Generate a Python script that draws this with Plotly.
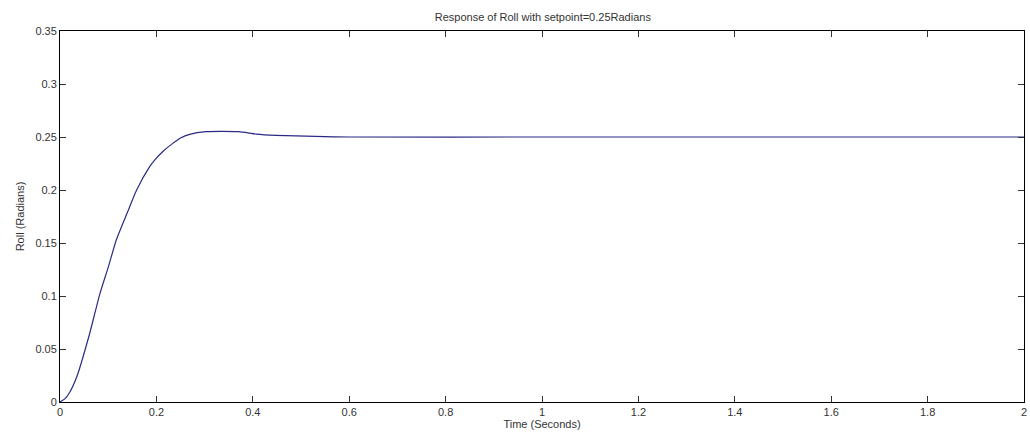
import plotly.graph_objects as go

time_s = [0, 0.01, 0.02, 0.035, 0.06, 0.083, 0.1, 0.117, 0.14, 0.159, 0.186, 0.196,
          0.215, 0.234, 0.25, 0.269, 0.303, 0.37, 0.407, 0.448, 0.53, 0.6, 1.0, 2.0]
roll_rad = [0, 0.003, 0.009, 0.024, 0.062, 0.1025, 0.127, 0.153, 0.179, 0.2, 0.222, 0.228,
            0.237, 0.244, 0.249, 0.2525, 0.255, 0.255, 0.2528, 0.2516, 0.2505, 0.25, 0.25, 0.25]

x_ticks = [0, 0.2, 0.4, 0.6, 0.8, 1, 1.2, 1.4, 1.6, 1.8, 2]
x_tick_text = ["0", "0.2", "0.4", "0.6", "0.8", "1", "1.2", "1.4", "1.6", "1.8", "2"]
y_ticks = [0, 0.05, 0.1, 0.15, 0.2, 0.25, 0.3, 0.35]
y_tick_text = ["0", "0.05", "0.1", "0.15", "0.2", "0.25", "0.3", "0.35"]

fig = go.Figure()
fig.add_trace(go.Scatter(x=time_s, y=roll_rad, mode="lines", line_shape="spline",
                         line=dict(color="#2a2a86", width=1.2, smoothing=0.6), showlegend=False))

font = dict(family="Liberation Sans, Arial, sans-serif", size=11, color="#333333")
fig.update_layout(
    width=1030, height=439,
    margin=dict(l=60, r=3, t=31, b=37),
    paper_bgcolor="white", plot_bgcolor="white",
    font=font,
    title=dict(text="Response of Roll with setpoint=0.25Radians", x=0.527, xanchor="center",
               y=1 - 17 / 439, yanchor="middle", font=dict(size=11, color="#333333")),
)
fig.update_xaxes(range=[0, 2], tickvals=x_ticks, ticktext=x_tick_text,
                 showline=True, linecolor="black", linewidth=1, mirror="ticks",
                 ticks="inside", ticklen=6, tickcolor="#333333", showgrid=False, zeroline=False,
                 ticklabeloverflow="allow",
                 title=dict(text="Time (Seconds)", standoff=2, font=font))
fig.update_yaxes(range=[0, 0.35], tickvals=y_ticks, ticktext=y_tick_text,
                 showline=True, linecolor="black", linewidth=1, mirror="ticks",
                 ticks="inside", ticklen=6, tickcolor="#333333", showgrid=False, zeroline=False,
                 ticklabeloverflow="allow",
                 title=dict(text="Roll (Radians)", standoff=8, font=font))

fig.write_html("out.html")
